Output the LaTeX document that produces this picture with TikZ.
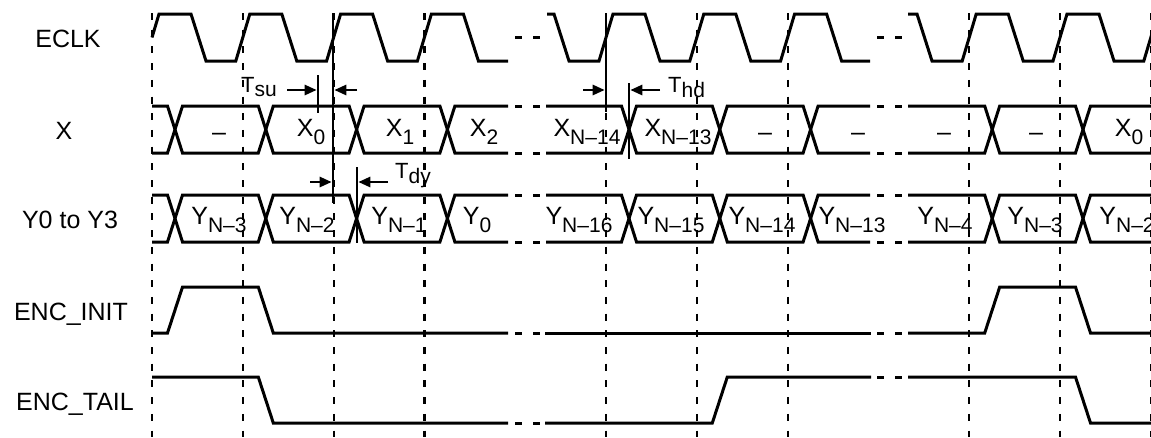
\documentclass[tikz,border=0pt]{standalone}
\usepackage{fontspec}
\setmainfont{Liberation Sans}
\usetikzlibrary{arrows.meta}
\newcommand{\sbs}[2][8.5pt]{\raisebox{-#1}{\fontsize{21}{21}\selectfont #2}}

\begin{document}
\begin{tikzpicture}[
  x=1pt, y=-1pt,
  sig/.style={line width=3pt},
  vgrid/.style={line width=2.2pt, dash pattern=on 7pt off 9.7pt},
  brk/.style={line width=3pt, dash pattern=on 7pt off 11pt},
  tline/.style={line width=2.6pt},
  dim/.style={-{Triangle[length=12pt,width=10pt]}, line width=2.6pt},
  lbl/.style={anchor=base, inner sep=0pt, font=\fontsize{25}{30}\selectfont},
  val/.style={anchor=base, inner sep=0pt, font=\fontsize{25}{30}\selectfont},
  note/.style={anchor=base west, inner sep=0pt, font=\fontsize{22}{26}\selectfont}
]
  \useasboundingbox (0,0) rectangle (1151,437);
  \clip (0,0) rectangle (1151,437);

  \foreach \k in {0,1,2,3,5,6,7,9,10,11}
    \draw[vgrid] ({152+90.8*\k},13) -- ({152+90.8*\k},437);

  \node[lbl] (eclk) at (68,47.5) {ECLK};
  \node[lbl] (xin) at (64,139.5) {X};
  \node[lbl] (yout) at (70,228.5) {Y0 to Y3};
  \node[lbl] (init) at (71,320) {ENC\_INIT};
  \node[lbl] (tail) at (75,410) {ENC\_TAIL};

  % clock
  \draw[sig] (152,37.5) -- (159,14) -- (191,14) -- (206,61)
    foreach \k in {1,2,3} { -- ({145+90.8*\k},61) -- ++(14,-47) -- ++(32,0) -- ++(15,47) }
    -- (508,61);
  \draw[sig] (547,14) -- (554,14) -- (569,61)
    foreach \k in {5,6,7} { -- ({145+90.8*\k},61) -- ++(14,-47) -- ++(32,0) -- ++(15,47) }
    -- (870,61);
  \draw[sig] (908,14) -- (917,14) -- (932,61)
    foreach \k in {9,10,11} { -- ({145+90.8*\k},61) -- ++(14,-47) -- ++(32,0) -- ++(15,47) };
  \draw[brk] (515,37.5) -- (540,37.5) (877,37.5) -- (902,37.5);

  % buses X and Y
  \foreach \ya/\ym/\yb in {106/129.5/153, 195/218.5/242} {
    \foreach \l/\r in {175/265.8, 265.8/356.6, 356.6/447.4, 629/719.8, 719.8/810.6, 992.2/1083}
      \draw[sig] (\l,\ym) -- (\l+7.5,\ya) -- (\r-7.5,\ya) -- (\r,\ym) -- (\r-7.5,\yb) -- (\l+7.5,\yb) -- cycle;
    \foreach \s/\c in {152/175, 546/629, 908/992.2}
      \draw[sig] (\s,\ya) -- (\c-7.5,\ya) -- (\c,\ym) -- (\c-7.5,\yb) -- (\s,\yb);
    \foreach \c/\e in {447.4/508, 810.6/870, 1083/1160}
      \draw[sig] (\e,\ya) -- (\c+7.5,\ya) -- (\c,\ym) -- (\c+7.5,\yb) -- (\e,\yb);
    \draw[brk] (515,\ya) -- (540,\ya) (877,\ya) -- (902,\ya)
      (515,\yb) -- (540,\yb) (877,\yb) -- (902,\yb);
  }

  \node[val] (x1) at (219,140) {–};
  \node[val] (x2) at (311,136) {X\sbs{0}};
  \node[val] (x3) at (400,136) {X\sbs{1}};
  \node[val] (x4) at (484,136) {X\sbs{2}};
  \node[val] (x5) at (587,136) {X\sbs{N–14}};
  \node[val] (x6) at (678,136) {X\sbs{N–13}};
  \node[val] (x7) at (765,140) {–};
  \node[val] (x8) at (858,140) {–};
  \node[val] (x9) at (944,140) {–};
  \node[val] (x10) at (1036,140) {–};
  \node[val] (x11) at (1129,136) {X\sbs{0}};

  \node[val] (y1) at (219,224) {Y\sbs{N–3}};
  \node[val] (y2) at (307,224) {Y\sbs{N–2}};
  \node[val] (y3) at (399,224) {Y\sbs{N–1}};
  \node[val] (y4) at (477,224) {Y\sbs{0}};
  \node[val] (y5) at (579,224) {Y\sbs{N–16}};
  \node[val] (y6) at (671,224) {Y\sbs{N–15}};
  \node[val] (y7) at (762,224) {Y\sbs{N–14}};
  \node[val] (y8) at (852,224) {Y\sbs{N–13}};
  \node[val] (y9) at (945,224) {Y\sbs{N–4}};
  \node[val] (y10) at (1035,224) {Y\sbs{N–3}};
  \node[val] (y11) at (1127,224) {Y\sbs{N–2}};

  % enc_init
  \draw[sig] (152,333) -- (167.5,333) -- (182.5,287) -- (258.3,287) -- (273.3,333) -- (508,333);
  \draw[sig] (545,333) -- (871,333);
  \draw[sig] (908,333) -- (984.7,333) -- (999.7,287) -- (1075.5,287) -- (1090.5,333) -- (1160,333);
  \draw[brk] (515,333) -- (540,333) (877,333) -- (902,333);

  % enc_tail
  \draw[sig] (152,377) -- (258.3,377) -- (273.3,423) -- (508,423);
  \draw[sig] (545,423) -- (712.3,423) -- (727.3,377) -- (871,377);
  \draw[sig] (908,377) -- (1075.5,377) -- (1090.5,423) -- (1160,423);
  \draw[brk] (515,423) -- (540,423) (877,377) -- (902,377);

  % timing marks
  \draw[tline] (333,13) -- (333,203);
  \draw[tline] (318,75) -- (318,113);
  \draw[tline] (357,167) -- (357,243);
  \draw[tline] (606,13) -- (606,112);
  \draw[tline] (629,83) -- (629,159);

  \coordinate (su0) at (287,90);
  \coordinate (su1) at (316.7,90);
  \coordinate (su2) at (334.3,90);
  \coordinate (su3) at (357,90);
  \coordinate (dy0) at (310,182);
  \coordinate (dy1) at (331.7,182);
  \coordinate (dy2) at (358.3,182);
  \coordinate (dy3) at (388,182);
  \coordinate (hd0) at (583,90);
  \coordinate (hd1) at (604.7,90);
  \coordinate (hd2) at (630.3,90);
  \coordinate (hd3) at (660,90);
  \draw[dim] (su0) -- (su1);
  \draw[dim] (su3) -- (su2);
  \draw[dim] (dy0) -- (dy1);
  \draw[dim] (dy3) -- (dy2);
  \draw[dim] (hd0) -- (hd1);
  \draw[dim] (hd3) -- (hd2);

  \node[note] (tsu) at (241,92) {T\sbs[4.5pt]{su}};
  \node[note] (tdy) at (395,178) {T\sbs[5pt]{dy}};
  \node[note] (thd) at (668,92) {T\sbs[5pt]{hd}};
\end{tikzpicture}
\end{document}
